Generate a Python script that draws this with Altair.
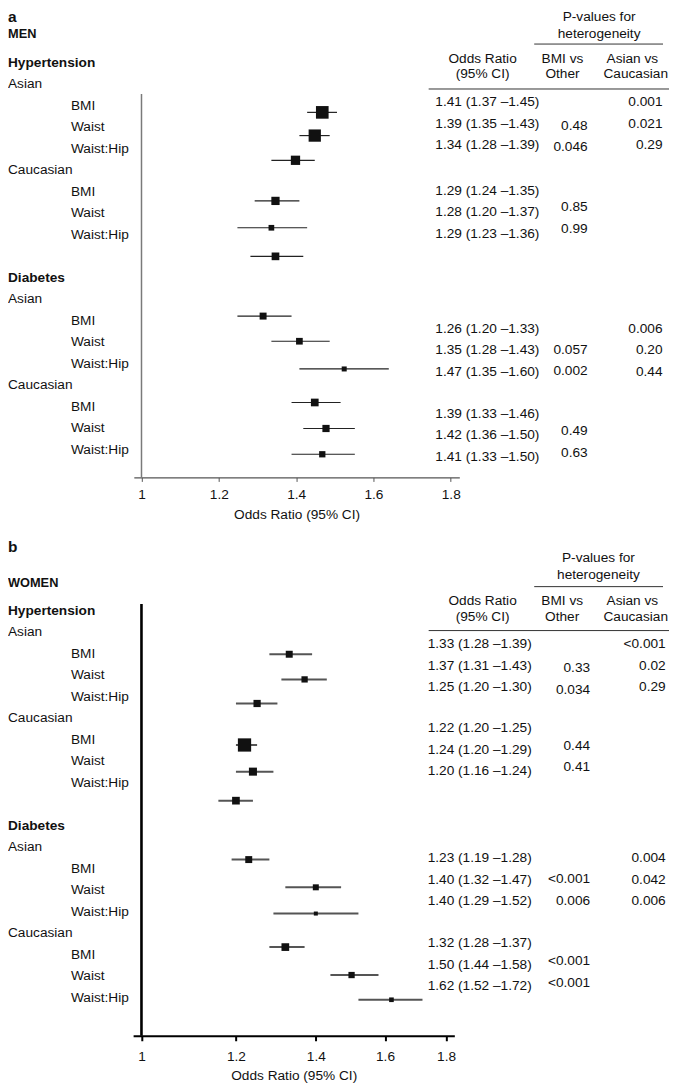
import altair as alt
import pandas as pd

FONT = "Liberation Sans"
MEASURES = ["BMI", "Waist", "Waist:Hip"]
ETHNICITIES = ["Asian", "Caucasian"]
OUTCOMES = ["Hypertension", "Diabetes"]
TICK_LABELS = ["1", "1.2", "1.4", "1.6", "1.8"]
X_TITLE = "Odds Ratio (95% CI)"

# ---------------- MEN ----------------
men_hyp_or = [1.41, 1.39, 1.34, 1.29, 1.28, 1.29]
men_hyp_lo = [1.37, 1.35, 1.28, 1.24, 1.20, 1.23]
men_hyp_hi = [1.45, 1.43, 1.39, 1.35, 1.37, 1.36]
men_hyp_p_bmi = ["", "0.48", "0.046", "", "0.85", "0.99"]
men_hyp_p_eth = ["0.001", "0.021", "0.29", "", "", ""]
men_hyp_weight = [89, 84, 48, 38, 18, 33]
men_hyp_marker_row = [2.31, 3.39, 4.54, 6.43, 7.68, 9.01]

men_dia_or = [1.26, 1.35, 1.47, 1.39, 1.42, 1.41]
men_dia_lo = [1.20, 1.28, 1.35, 1.33, 1.36, 1.33]
men_dia_hi = [1.33, 1.43, 1.60, 1.46, 1.50, 1.50]
men_dia_p_bmi = ["", "0.057", "0.002", "", "0.49", "0.63"]
men_dia_p_eth = ["0.006", "0.20", "0.44", "", "", ""]
men_dia_weight = [27, 25, 14, 33, 29, 22]
men_dia_marker_row = [11.79, 12.96, 14.25, 15.81, 17.02, 18.22]

# ---------------- WOMEN ----------------
women_hyp_or = [1.33, 1.37, 1.25, 1.22, 1.24, 1.20]
women_hyp_lo = [1.28, 1.31, 1.20, 1.20, 1.20, 1.16]
women_hyp_hi = [1.39, 1.43, 1.30, 1.25, 1.29, 1.24]
women_hyp_p_bmi = ["", "0.33", "0.034", "", "0.44", "0.41"]
women_hyp_p_eth = ["<0.001", "0.02", "0.29", "", "", ""]
women_hyp_weight = [27, 22, 29, 98, 36, 33]
women_hyp_marker_row = [2.03, 3.20, 4.32, 6.25, 7.49, 8.84]

women_dia_or = [1.23, 1.40, 1.40, 1.32, 1.50, 1.62]
women_dia_lo = [1.19, 1.32, 1.29, 1.28, 1.44, 1.52]
women_dia_hi = [1.28, 1.47, 1.52, 1.37, 1.58, 1.72]
women_dia_p_bmi = ["", "<0.001", "0.006", "", "<0.001", "<0.001"]
women_dia_p_eth = ["0.004", "0.042", "0.006", "", "", ""]
women_dia_weight = [27, 20, 9, 33, 22, 12]
women_dia_marker_row = [11.58, 12.87, 14.09, 15.65, 16.95, 18.10]


def one(**kw):
    return pd.DataFrame({k: [v] for k, v in kw.items()})


def label_expr(values, labels):
    expr = "'%s'" % labels[-1]
    for i in range(len(values) - 2, -1, -1):
        mid = (values[i] + values[i + 1]) / 2
        expr = "datum.value < %r ? '%s' : (%s)" % (mid, labels[i], expr)
    return expr


def build_panel(letter, sex, series, g):
    H, W = g["H"], 662
    yscale = alt.Scale(domain=[0, 18], range=g["row_px"], nice=False, zero=False)
    xscale = alt.Scale(type="log", domain=g["xdom"], range=g["xrange"], nice=False)
    xaxis = alt.Axis(
        values=g["ticks"], labelExpr=label_expr(g["ticks"], TICK_LABELS),
        title=X_TITLE, grid=False, offset=g["axis_y"] - H,
        domainColor=g["axis_color"], domainWidth=g["xaxis_w"],
        tickColor=g["axis_color"], tickWidth=g["tick_w"], tickSize=g["tick_size"],
        labelFont=FONT, labelFontSize=13.7, labelColor="#111",
        labelPadding=g["label_pad"], labelFlush=False, labelOverlap=False,
        titleFont=FONT, titleFontSize=13.7, titleFontWeight="normal", titleColor="#111",
        titleY=g["title_y"], titleBaseline="middle",
    )

    recs, labs = [], []
    for oi, (out, d) in enumerate(zip(OUTCOMES, series)):
        base = oi * 10
        labs.append(dict(label=out, row=base, kind="outcome"))
        for ei, eth in enumerate(ETHNICITIES):
            labs.append(dict(label=eth, row=base + 1 + 4 * ei, kind="eth"))
        for i in range(6):
            eth = ETHNICITIES[i // 3]
            row = base + 2 + i + (1 if i >= 3 else 0)
            labs.append(dict(label=MEASURES[i % 3], row=row, kind="measure"))
            recs.append(dict(
                section=f"{out}-{eth}", row=row, mrow=d["mrow"][i],
                OR=d["or"][i], lo=d["lo"][i], hi=d["hi"][i], w=d["w"][i],
                or_text=f"{d['or'][i]:.2f} ({d['lo'][i]:.2f} \u2013{d['hi'][i]:.2f})",
                p_bmi=d["p_bmi"][i], p_eth=d["p_eth"][i],
            ))
    est = pd.DataFrame(recs)
    lab = pd.DataFrame(labs)

    Y = lambda f: alt.Y(f"{f}:Q", scale=yscale, axis=None)
    X = lambda f: alt.X(f"{f}:Q", scale=xscale, axis=xaxis)

    layers = []
    txt = dict(font=FONT, fontSize=13.7, color="#111", baseline="middle")
    # left labels
    for kind, x, weight in (("outcome", 0, "bold"), ("eth", 0, "normal"), ("measure", 63, "normal")):
        layers.append(
            alt.Chart(lab).transform_filter(alt.datum.kind == kind)
            .mark_text(align="left", fontWeight=weight, **txt)
            .encode(x=alt.value(x), y=Y("row"), text="label:N")
        )
    # panel letter and sex
    layers.append(alt.Chart(one(t=letter)).mark_text(
        align="left", baseline="middle", font=FONT, fontSize=15.5, fontWeight="bold", color="#111")
        .encode(x=alt.value(0), y=alt.value(g["letter_y"]), text="t:N"))
    layers.append(alt.Chart(one(t=sex)).mark_text(
        align="left", baseline="middle", font=FONT, fontSize=12.8, fontWeight="bold", color="#111")
        .encode(x=alt.value(0), y=alt.value(g["sex_y"]), text="t:N"))

    # vertical axis at OR = 1
    layers.append(alt.Chart(one(ref=1.0)).mark_rule(color=g["vaxis_color"], strokeWidth=g["vaxis_w"])
                  .encode(x=X("ref"), y=alt.value(g["vaxis_top"]), y2=alt.value(g["axis_y"])))
    # CI lines
    layers.append(alt.Chart(est).mark_rule(color=g["ci_color"], strokeWidth=g["ci_w"])
                  .encode(x=X("lo"), x2="hi:Q", y=Y("mrow")))
    # squares
    layers.append(alt.Chart(est).mark_point(shape="square", filled=True, opacity=1, color="#111", strokeWidth=0)
                  .encode(x=X("OR"), y=Y("mrow"),
                          size=alt.Size("w:Q", scale=alt.Scale(domain=[0, 100], range=[0, 180]), legend=None)))

    # table text
    for sec in est["section"].unique():
        sub = alt.Chart(est).transform_filter(alt.datum.section == sec)
        layers.append(sub.mark_text(align="left", dy=g["or_dy"][sec], **txt)
                      .encode(x=alt.value(g["or_x"]), y=Y("row"), text="or_text:N"))
        layers.append(sub.mark_text(align="right", dy=g["pbmi_dy"][sec], **txt)
                      .encode(x=alt.value(g["pbmi_x"]), y=Y("row"), text="p_bmi:N"))
        layers.append(sub.mark_text(align="right", dy=g["or_dy"][sec], **txt)
                      .encode(x=alt.value(g["peth_x"]), y=Y("row"), text="p_eth:N"))

    # header
    hy = g["hdr"]
    for s, x, y in (("P-values for", hy["pv_x"], hy["pv1"]), ("heterogeneity", hy["pv_x"], hy["pv2"]),
                    ("Odds Ratio", 475.3, hy["h1"]), ("(95% CI)", 475.3, hy["h2"]),
                    ("BMI vs", hy["bmi_x"], hy["h1"]), ("Other", hy["bmi_x"], hy["h2"]),
                    ("Asian vs", 625.3, hy["h1"]), ("Caucasian", 628.7, hy["h2"])):
        layers.append(alt.Chart(one(t=s)).mark_text(align="center", **txt)
                      .encode(x=alt.value(x), y=alt.value(y), text="t:N"))
    for x1, x2, y in ((527, 656, hy["l1"]), (421.3, 662, hy["l2"])):
        layers.append(alt.Chart(one(t=0)).mark_rule(color="#333", strokeWidth=1)
                      .encode(x=alt.value(x1), x2=alt.value(x2), y=alt.value(y)))

    return alt.layer(*layers).properties(width=W, height=H)


men = [
    {"or": men_hyp_or, "lo": men_hyp_lo, "hi": men_hyp_hi, "p_bmi": men_hyp_p_bmi,
     "p_eth": men_hyp_p_eth, "w": men_hyp_weight, "mrow": men_hyp_marker_row},
    {"or": men_dia_or, "lo": men_dia_lo, "hi": men_dia_hi, "p_bmi": men_dia_p_bmi,
     "p_eth": men_dia_p_eth, "w": men_dia_weight, "mrow": men_dia_marker_row},
]
women = [
    {"or": women_hyp_or, "lo": women_hyp_lo, "hi": women_hyp_hi, "p_bmi": women_hyp_p_bmi,
     "p_eth": women_hyp_p_eth, "w": women_hyp_weight, "mrow": women_hyp_marker_row},
    {"or": women_dia_or, "lo": women_dia_lo, "hi": women_dia_hi, "p_bmi": women_dia_p_bmi,
     "p_eth": women_dia_p_eth, "w": women_dia_weight, "mrow": women_dia_marker_row},
]

HA, HC, DA, DC = ("Hypertension-Asian", "Hypertension-Caucasian", "Diabetes-Asian", "Diabetes-Caucasian")

geo_a = dict(
    H=531, row_px=[54, 441.4], xdom=[0.9855, 1.8295], xrange=[126, 452],
    # the reference labels its men's axis at evenly spaced positions
    ticks=[1.8 ** (k / 4) for k in range(5)],
    axis_y=469.3, vaxis_top=85.3, title_y=37.5,
    axis_color="#555", xaxis_w=1.2, tick_w=1, tick_size=4, label_pad=5.7,
    vaxis_color="#7a7a7a", vaxis_w=1.5, ci_color="#222", ci_w=1.2,
    letter_y=8.5, sex_y=25.3,
    or_x=428, pbmi_x=580.5, peth_x=655.5,
    or_dy={HA: -3.3, HC: -1, DA: 8, DC: 7.4},
    pbmi_dy={HA: -1.2, HC: -6, DA: 7.8, DC: 3},
    hdr=dict(pv_x=592, pv1=8.5, pv2=24.9, l1=35.3, h1=50.3, h2=65.3, l2=80.3, bmi_x=555.3),
)
geo_b = dict(
    H=544, row_px=[71.7, 459.3], xdom=[0.984, 1.829], xrange=[125.3, 447],
    ticks=[float(t) for t in TICK_LABELS],
    axis_y=497.5, vaxis_top=65, title_y=39.5,
    axis_color="#000", xaxis_w=2.2, tick_w=2, tick_size=5, label_pad=8.5,
    vaxis_color="#000", vaxis_w=2.6, ci_color="#555", ci_w=2,
    letter_y=8.5, sex_y=44.3,
    or_x=420.3, pbmi_x=583, peth_x=658.7,
    or_dy={HA: -9.6, HC: -11.4, DA: -10.3, DC: -11.3},
    pbmi_dy={HA: -7, HC: -15.5, DA: -10.8, DC: -15},
    hdr=dict(pv_x=591.3, pv1=19.3, pv2=36, l1=47.7, h1=61.7, h2=77.7, l2=91.7, bmi_x=555),
)

panel_a = build_panel("a", "MEN", men, geo_a)
panel_b = build_panel("b", "WOMEN", women, geo_b)

chart = (
    alt.vconcat(panel_a, panel_b, spacing=0)
    .properties(padding=0)
    .configure(font=FONT)
    .configure_view(strokeWidth=0, stroke="transparent")
)

chart.save("out.html", embed_options={"renderer": "svg", "actions": False})
